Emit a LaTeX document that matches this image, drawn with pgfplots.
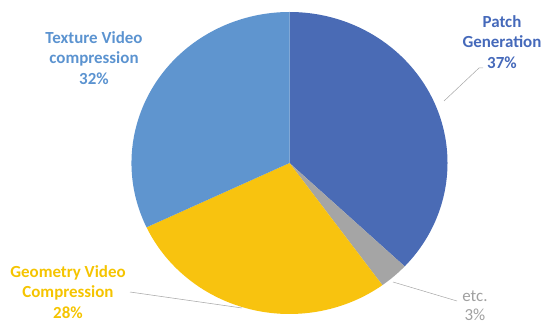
\documentclass[border=0pt]{standalone}
\usepackage{pgfplots}
\usepackage{pgfplotstable}
\pgfplotsset{compat=1.18}
\usepackage{fontspec}
\setmainfont{Carlito}

\definecolor{cPatch}{HTML}{4A6BB5}
\definecolor{cEtc}{HTML}{A5A5A5}
\definecolor{cGeo}{HTML}{F8C30F}
\definecolor{cTex}{HTML}{5F95CF}
\definecolor{tPatch}{HTML}{4569BA}
\definecolor{tTex}{HTML}{5B93D0}
\definecolor{tGeo}{HTML}{F5C400}
\definecolor{tEtc}{HTML}{A0A0A0}
\definecolor{leader}{HTML}{A6A6A6}

\tikzset{lbl/.style={font=\bfseries\fontsize{17}{20.5}\selectfont, align=center}}

\pgfplotstableread{
label pct
Patch 37
etc 3
Geometry 28
Texture 32
}\piedata

\begin{document}
\begin{tikzpicture}
\pgfplotstablegetelem{0}{pct}\of\piedata \let\pA\pgfplotsretval
\pgfplotstablegetelem{1}{pct}\of\piedata \let\pB\pgfplotsretval
\pgfplotstablegetelem{2}{pct}\of\piedata \let\pC\pgfplotsretval
\pgfplotstablegetelem{3}{pct}\of\piedata \let\pD\pgfplotsretval
\pgfmathsetmacro\aA{90}
\pgfmathsetmacro\aB{\aA-3.6*\pA}
\pgfmathsetmacro\aC{\aB-3.6*\pB}
\pgfmathsetmacro\aD{\aC-3.6*\pC}
\pgfmathsetmacro\aE{\aD-3.6*\pD}
\begin{axis}[
  scale only axis, width=545bp, height=323bp,
  xmin=0, xmax=545, ymin=0, ymax=323,
  hide axis, clip=false,
]
\path (rel axis cs:0,0) rectangle (rel axis cs:1,1);
\fill[cPatch] (axis cs:289.5,160) -- ++(\aA:158bp and 151bp) arc[start angle=\aA, end angle=\aB, x radius=158bp, y radius=151bp] -- cycle;
\fill[cEtc] (axis cs:289.5,160) -- ++(\aB:158bp and 151bp) arc[start angle=\aB, end angle=\aC, x radius=158bp, y radius=151bp] -- cycle;
\fill[cGeo] (axis cs:289.5,160) -- ++(\aC:158bp and 151bp) arc[start angle=\aC, end angle=\aD, x radius=158bp, y radius=151bp] -- cycle;
\fill[cTex] (axis cs:289.5,160) -- ++(\aD:158bp and 151bp) arc[start angle=\aD, end angle=\aE, x radius=158bp, y radius=151bp] -- cycle;

\draw[leader, line width=0.5pt] (axis cs:483,255) -- (axis cs:479,255) -- (axis cs:444,222);
\draw[leader, line width=0.5pt] (axis cs:130,31) -- (axis cs:242,15);
\draw[leader, line width=0.5pt] (axis cs:393,41) -- (axis cs:457,22);

\node[lbl, text=tTex] at (axis cs:94,265) {Texture Video\\compression\\32\%};
\node[lbl, text=tPatch] at (axis cs:502,281) {Patch\\Generation\\37\%};
\node[lbl, text=tGeo] at (axis cs:68,31) {Geometry Video\\Compression\\28\%};
\node[lbl, text=tEtc, font=\fontsize{17}{19.5}\selectfont] at (axis cs:475,17) {etc.\\3\%};
\end{axis}
\end{tikzpicture}
\end{document}
